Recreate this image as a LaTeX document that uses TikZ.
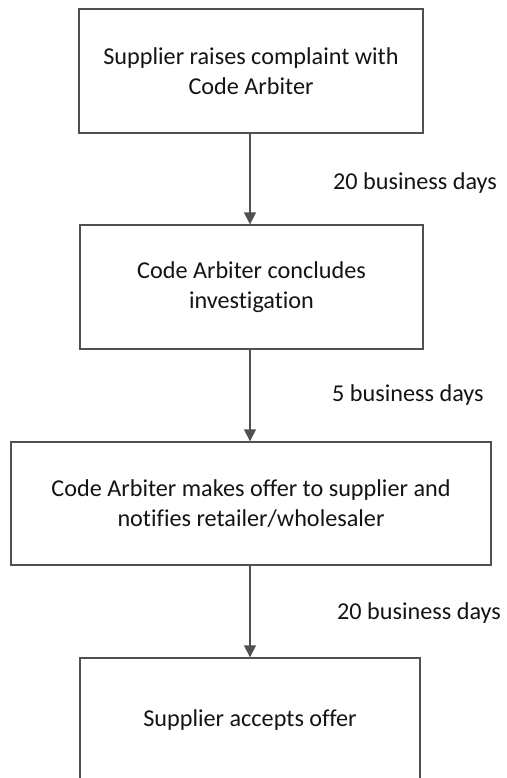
\documentclass[tikz,border=0pt]{standalone}
\usepackage{fontspec}
\setmainfont[Ligatures=NoCommon]{Carlito}
\usetikzlibrary{arrows.meta}
\definecolor{edge}{HTML}{505050}
\definecolor{ink}{HTML}{141414}
\tikzset{
  stepbox/.style={draw=edge, line width=1.3bp, fill=white, align=center,
    text=ink, font=\fontsize{24.3}{29.5}\selectfont, inner sep=0pt},
  flow/.style={draw=edge, line width=1.3bp, -{Triangle[length=12bp,width=12bp]}},
  delay/.style={anchor=west, text=ink, font=\fontsize{24.3}{29.5}\selectfont, inner sep=0pt}
}
\begin{document}
\begin{tikzpicture}[x=1bp,y=-1bp]
  \useasboundingbox (0,0) rectangle (507,778);
  \clip (0,0) rectangle (507,778);
  \node[stepbox, minimum width=344bp, minimum height=124bp] (raise) at (251,71)
    {Supplier raises complaint with\\Code Arbiter};
  \node[stepbox, minimum width=343bp, minimum height=124bp] (conclude) at (251.5,287)
    {Code Arbiter concludes\\investigation};
  \node[stepbox, minimum width=480bp, minimum height=123bp] (offer) at (251,503.5)
    {Code Arbiter makes offer to supplier and\\notifies retailer/wholesaler};
  \node[stepbox, minimum width=340bp, minimum height=124bp] (accept) at (250,720)
    {Supplier accepts offer};
  \draw[flow] (raise.south -| 250,0) -- (conclude.north -| 250,0);
  \draw[flow] (conclude.south -| 250,0) -- (offer.north -| 250,0);
  \draw[flow] (offer.south -| 250,0) -- (accept.north -| 250,0);
  \node[delay] (d1) at (333,183) {20 business days};
  \node[delay] (d2) at (332,395) {5 business days};
  \node[delay] (d3) at (337,613) {20 business days};
\end{tikzpicture}
\end{document}
